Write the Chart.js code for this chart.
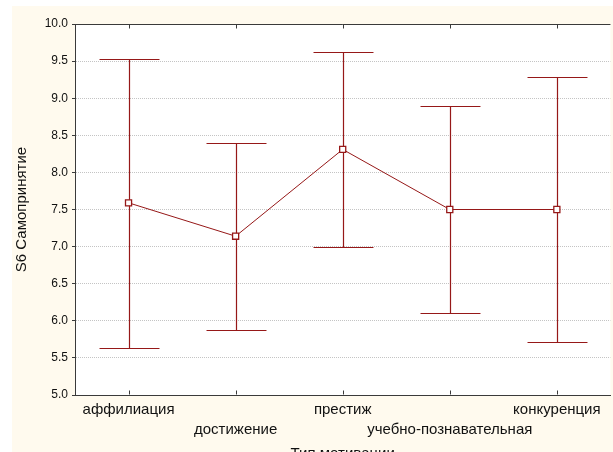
<!DOCTYPE html>
<html>
<head>
<meta charset="utf-8">
<script src="https://cdn.jsdelivr.net/npm/chart.js@4"></script>
<style>
    html, body { margin: 0; padding: 0; background: #ffffff; overflow: hidden; width: 613px; height: 452px; }
    #wrap { position: absolute; left: 12px; top: 6px; width: 604px; height: 461px; background: #fffaee; }
</style>
</head>
<body>
<div id="wrap"><canvas id="chart" width="604" height="461"></canvas></div>
<script>
const categories = ['аффилиация', 'достижение', 'престиж', 'учебно-познавательная', 'конкуренция'];
const means = [7.59, 7.14, 8.31, 7.50, 7.50];
const upper = [9.53, 8.40, 9.62, 8.89, 9.29];
const lower = [5.64, 5.88, 6.99, 6.10, 5.71];
const yTicks = [5.0, 5.5, 6.0, 6.5, 7.0, 7.5, 8.0, 8.5, 9.0, 9.5, 10.0];

(function () {
    const lineColor = '#961818';
    const frameColor = '#3a3a3a';
    const fontFamily = "'Liberation Sans', Arial, sans-serif";

    // white plot area, error bars under the markers
    const errorBars = {
        id: 'errorBars',
        beforeDraw(chart) {
            const { ctx, chartArea } = chart;
            ctx.save();
            ctx.fillStyle = '#ffffff';
            ctx.fillRect(chartArea.left, chartArea.top, chartArea.right - chartArea.left, chartArea.bottom - chartArea.top);
            ctx.restore();
        },
        beforeDatasetsDraw(chart) {
            const { ctx, scales } = chart;
            const x = scales.x;
            const y = scales.y;
            const half = (x.width / categories.length) * 0.28;
            ctx.save();
            ctx.strokeStyle = lineColor;
            ctx.lineWidth = 1.2;
            categories.forEach((c, i) => {
                const px = Math.round(x.getPixelForValue(i)) + 0.5;
                const top = Math.round(y.getPixelForValue(upper[i])) + 0.5;
                const bot = Math.round(y.getPixelForValue(lower[i])) + 0.5;
                ctx.beginPath();
                ctx.moveTo(px, top);
                ctx.lineTo(px, bot);
                ctx.moveTo(px - half, top);
                ctx.lineTo(px + half, top);
                ctx.moveTo(px - half, bot);
                ctx.lineTo(px + half, bot);
                ctx.stroke();
            });
            ctx.restore();
        },
        afterDraw(chart) {
            const { ctx, chartArea, scales } = chart;
            ctx.save();
            ctx.strokeStyle = frameColor;
            ctx.lineWidth = 1;
            ctx.beginPath();
            const t = Math.round(chartArea.top) + 0.5;
            const b = Math.round(chartArea.bottom) - 0.5;
            ctx.moveTo(chartArea.left, t);
            ctx.lineTo(chartArea.right, t);
            categories.forEach((c, i) => {
                const px = Math.round(scales.x.getPixelForTick(i)) + 0.5;
                ctx.moveTo(px, t);
                ctx.lineTo(px, t + 4);
                ctx.moveTo(px, b);
                ctx.lineTo(px, b - 4);
            });
            ctx.stroke();
            ctx.restore();
        },
    };

    new Chart(document.getElementById('chart').getContext('2d'), {
        type: 'line',
        data: {
            labels: categories,
            datasets: [
                {
                    data: means,
                    borderColor: lineColor,
                    borderWidth: 1,
                    tension: 0,
                    pointStyle: 'rect',
                    pointRadius: 4.3,
                    pointBorderWidth: 1.3,
                    pointBackgroundColor: '#ffffff',
                    pointBorderColor: lineColor,
                    fill: false,
                },
            ],
        },
        options: {
            responsive: false,
            devicePixelRatio: 1,
            animation: false,
            layout: { padding: { top: 18, left: 0, right: 0, bottom: 0 } },
            plugins: {
                legend: { display: false },
                tooltip: { enabled: false },
            },
            scales: {
                x: {
                    type: 'category',
                    offset: true,
                    grid: { display: true, drawOnChartArea: false, drawTicks: false },
                    border: { display: true, color: frameColor, width: 1 },
                    ticks: {
                        autoSkip: false,
                        maxRotation: 0,
                        padding: 5,
                        color: '#111111',
                        font: { family: fontFamily, size: 15, lineHeight: 1.333 },
                        callback: (v, i) => (i % 2 === 0 ? [categories[i]] : ['', categories[i]]),
                    },
                    title: {
                        display: true,
                        text: 'Тип мотивации',
                        color: '#111111',
                        font: { family: fontFamily, size: 15 },
                        padding: { top: 0, bottom: 4 },
                    },
                    afterFit: (scale) => {
                        scale.height = 72;
                        scale.paddingLeft = 0;
                        scale.paddingRight = 0;
                    },
                },
                y: {
                    min: 5,
                    max: 10,
                    afterBuildTicks: (scale) => {
                        scale.ticks = yTicks.map((v) => ({ value: v }));
                    },
                    grid: {
                        color: '#c4c4c4',
                        tickColor: frameColor,
                        tickLength: 3,
                        lineWidth: 1,
                    },
                    border: { display: true, color: frameColor, width: 1, dash: [1, 1] },
                    ticks: {
                        padding: 4,
                        color: '#111111',
                        font: { family: fontFamily, size: 12 },
                        callback: (v) => Number(v).toFixed(1),
                    },
                    title: {
                        display: true,
                        text: 'S6 Самопринятие',
                        color: '#111111',
                        font: { family: fontFamily, size: 15 },
                        padding: { top: 1, bottom: 0 },
                    },
                    afterFit: (scale) => {
                        scale.width = 63;
                    },
                },
            },
        },
        plugins: [errorBars],
    });
})();
</script>
</body>
</html>
